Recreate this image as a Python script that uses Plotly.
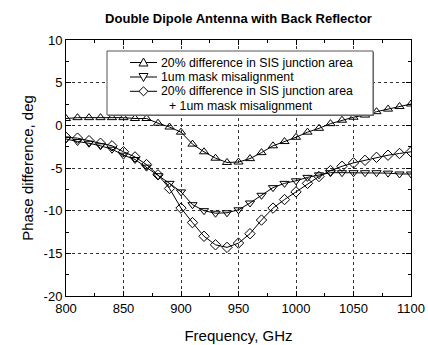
import plotly.graph_objects as go

freq = list(range(800, 1101, 10))

area_diff = [0.8, 0.9, 0.9, 0.9, 0.9, 0.9, 0.8, 0.8, 0.25, -0.2, -0.8, -2.2, -3.1, -3.85, -4.35,
             -4.3, -3.9, -3.2, -2.4, -1.9, -1.4, -0.8, -0.35, 0.2, 0.6, 0.95, 1.2, 1.6, 1.9, 2.2, 2.5]
mask_mis = [-1.6, -1.9, -2.1, -2.4, -2.8, -3.5, -4.0, -4.9, -5.9, -6.8, -7.8, -9.3, -10.0, -10.3, -10.25,
            -9.9, -9.1, -8.2, -7.3, -6.8, -6.5, -6.1, -5.8, -5.55, -5.55, -5.55, -5.55, -5.55, -5.6, -5.7, -5.7]
both = [-1.4, -1.5, -1.8, -2.1, -2.4, -3.1, -3.7, -4.6, -5.8, -7.4, -9.7, -11.4, -13.0, -14.0, -14.3,
        -13.8, -12.7, -11.1, -9.7, -8.7, -7.8, -6.8, -6.0, -5.3, -4.8, -4.4, -4.1, -3.75, -3.5, -3.3, -3.1]

names = ["20% difference in SIS junction area",
         "1um mask misalignment",
         "20% difference in SIS junction area"]
name_cont = "+ 1um mask misalignment"
symbols = ["triangle-up-open", "triangle-down-open", "diamond-open"]
series = [area_diff, mask_mis, both]

x_ticks = [800, 850, 900, 950, 1000, 1050, 1100]
x_ticklabels = ["800", "850", "900", "950", "1000", "1050", "1100"]
y_ticks = [-20, -15, -10, -5, 0, 5, 10]
y_ticklabels = ["-20", "-15", "-10", "-5", "0", "5", "10"]

font_family = "Arial, Liberation Sans, sans-serif"

W, H = 428, 345
L, R, T, B = 66, 17, 40, 49
PW, PH = W - L - R, H - T - B


def px(X):
    return (X - L) / PW


def py(Y):
    return (H - B - Y) / PH


fig = go.Figure()
for nm, sym, ys in zip(names, symbols, series):
    fig.add_trace(go.Scatter(
        x=freq, y=ys, name=nm, mode="lines+markers", showlegend=False,
        line=dict(color="black", width=1),
        marker=dict(symbol=sym, size=8, color="black", line=dict(color="black", width=1)),
    ))

axis_common = dict(
    showline=True, linecolor="black", linewidth=1, mirror="allticks",
    ticks="inside", ticklen=5, tickcolor="black", automargin=False,
    showgrid=True, gridcolor="#333", gridwidth=1, griddash="dot",
    zeroline=False, tickfont=dict(size=13, color="black", family=font_family),
    minor=dict(ticks="inside", ticklen=3, tickcolor="black", showgrid=False),
)

fig.update_xaxes(range=[800, 1100], tickvals=x_ticks, ticktext=x_ticklabels,
                 title=dict(text="Frequency, GHz", font=dict(size=15, color="black", family=font_family), standoff=15),
                 **axis_common)
fig.update_yaxes(range=[-20, 10], tickvals=y_ticks, ticktext=y_ticklabels,
                 title=dict(text="Phase difference, deg", font=dict(size=15, color="black", family=font_family), standoff=6),
                 **axis_common)
fig.update_xaxes(minor=dict(tickvals=list(range(800, 1101, 25))))
fig.update_yaxes(minor=dict(tickvals=[v / 2 for v in range(-40, 21, 5)]))

# ---- hand-built legend (layout only) ----
shapes = []
annotations = []
shapes.append(dict(type="rect", xref="paper", yref="paper",
                   x0=px(108), x1=px(374), y0=py(116), y1=py(52),
                   fillcolor="#777", line=dict(width=0), layer="above"))
shapes.append(dict(type="rect", xref="paper", yref="paper",
                   x0=px(107), x1=px(373), y0=py(115), y1=py(51),
                   fillcolor="white", line=dict(color="#555", width=1), layer="above"))

rows = [62.5, 77, 91.3]
for i, (yy, nm) in enumerate(zip(rows, names)):
    shapes.append(dict(type="line", xref="paper", yref="paper",
                       x0=px(130), x1=px(157), y0=py(yy), y1=py(yy),
                       line=dict(color="black", width=1), layer="above"))
    cx = 143.5
    if i == 0:
        pts = [(cx - 4.5, yy + 3.5), (cx + 4.5, yy + 3.5), (cx, yy - 4.5)]
    elif i == 1:
        pts = [(cx - 4.5, yy - 3.5), (cx + 4.5, yy - 3.5), (cx, yy + 4.5)]
    else:
        pts = [(cx - 4.5, yy), (cx, yy - 4.5), (cx + 4.5, yy), (cx, yy + 4.5)]
    path = "M " + " L ".join(f"{px(a):.5f},{py(b):.5f}" for a, b in pts) + " Z"
    shapes.append(dict(type="path", xref="paper", yref="paper", path=path,
                       fillcolor="white", line=dict(color="black", width=1), layer="above"))
    annotations.append(dict(text=nm, xref="paper", yref="paper", x=px(159), y=py(yy),
                            xanchor="left", yanchor="middle", showarrow=False,
                            font=dict(size=12.3, color="black", family=font_family)))
annotations.append(dict(text=name_cont, xref="paper", yref="paper", x=px(167), y=py(105.5),
                        xanchor="left", yanchor="middle", showarrow=False,
                        font=dict(size=12.3, color="black", family=font_family)))

fig.update_layout(
    width=W, height=H,
    margin=dict(l=L, r=R, t=T, b=B),
    paper_bgcolor="white", plot_bgcolor="white",
    font=dict(family=font_family, color="black"),
    title=dict(text="<b>Double Dipole Antenna with Back Reflector</b>",
               font=dict(size=13, color="black", family=font_family),
               x=(L + (W - R)) / 2 / W, xanchor="center", y=1 - 18 / H, yanchor="middle"),
    shapes=shapes, annotations=annotations,
    showlegend=False,
)

fig.write_html("out.html")
